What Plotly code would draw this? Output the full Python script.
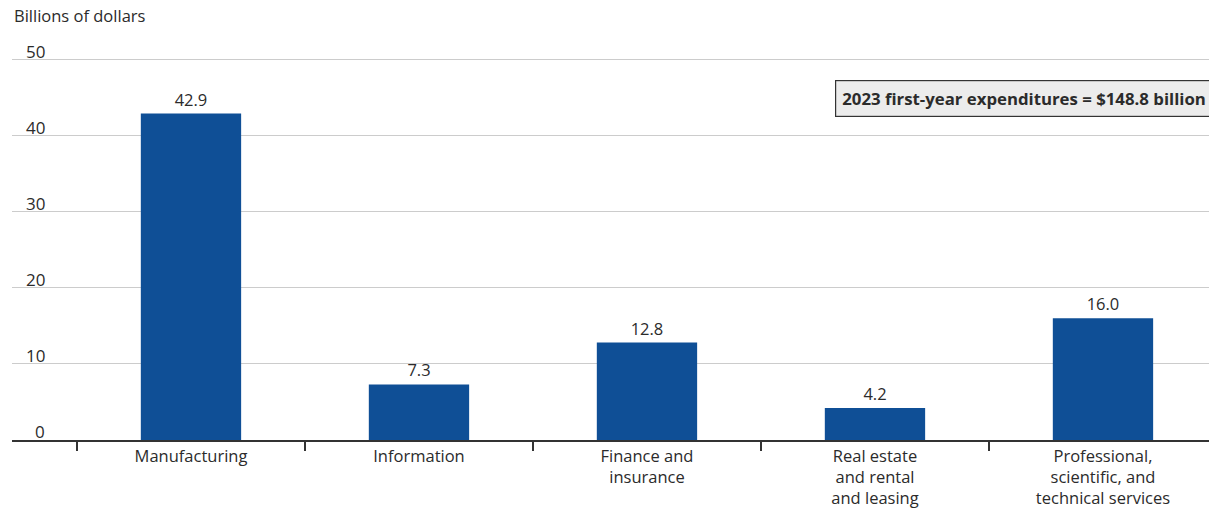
import plotly.graph_objects as go

categories = [
    "Manufacturing",
    "Information",
    "Finance and<br>insurance",
    "Real estate<br>and rental<br>and leasing",
    "Professional,<br>scientific, and<br>technical services",
]
values = [42.9, 7.3, 12.8, 4.2, 16.0]
y_ticks = [0, 10, 20, 30, 40, 50]
total_note = "2023 first-year expenditures = $148.8 billion"
y_title = "Billions of dollars"

FONT = "Open Sans, Lato, sans-serif"
TEXT = "#2b2b2b"

fig = go.Figure(
    go.Bar(
        x=categories,
        y=values,
        marker=dict(color="#0f4f96", line=dict(width=0)),
        width=0.44,
        text=[f"{v:.1f}" for v in values],
        textposition="outside",
        textfont=dict(family=FONT, size=16.5, color=TEXT),
        cliponaxis=False,
        hoverinfo="skip",
    )
)

fig.update_layout(
    width=1209,
    height=509,
    margin=dict(l=12, r=0, t=52, b=69),
    paper_bgcolor="white",
    plot_bgcolor="white",
    showlegend=False,
    font=dict(family=FONT, size=16.5, color=TEXT),
)

fig.update_xaxes(
    type="category",
    range=[-0.785, 4.465],
    tickson="boundaries",
    ticks="outside",
    ticklen=9,
    tickwidth=1.5,
    tickcolor="#333333",
    showline=True,
    linecolor="#333333",
    linewidth=1.5,
    showgrid=False,
    automargin=False,
    tickfont=dict(family=FONT, size=16.5, color=TEXT),
)

# Gridlines only; value labels are placed above each gridline below.
fig.update_yaxes(
    range=[0, 51],
    tickvals=y_ticks,
    showticklabels=False,
    showgrid=True,
    gridcolor="#cccccc",
    gridwidth=1,
    zeroline=False,
    showline=False,
)

for t in y_ticks:
    fig.add_annotation(
        text=str(t),
        xref="paper", yref="y",
        x=0, y=t,
        xanchor="right", yanchor="bottom",
        xshift=35, yshift=-5,
        showarrow=False,
        font=dict(family=FONT, size=17, color=TEXT),
    )

fig.add_annotation(
    text=y_title,
    xref="paper", yref="paper",
    x=0, y=1,
    xanchor="left", yanchor="bottom",
    yshift=23,
    showarrow=False,
    font=dict(family=FONT, size=16.5, color=TEXT),
)

fig.add_annotation(
    text=f"<b>{total_note}</b>",
    xref="paper", yref="y",
    x=1, y=44.9,
    xanchor="right", yanchor="middle",
    xshift=4,
    showarrow=False,
    bgcolor="#ececec",
    bordercolor="#333333",
    borderwidth=1.2,
    borderpad=6,
    font=dict(family=FONT, size=16.8, color=TEXT),
)

fig.write_html("out.html")
